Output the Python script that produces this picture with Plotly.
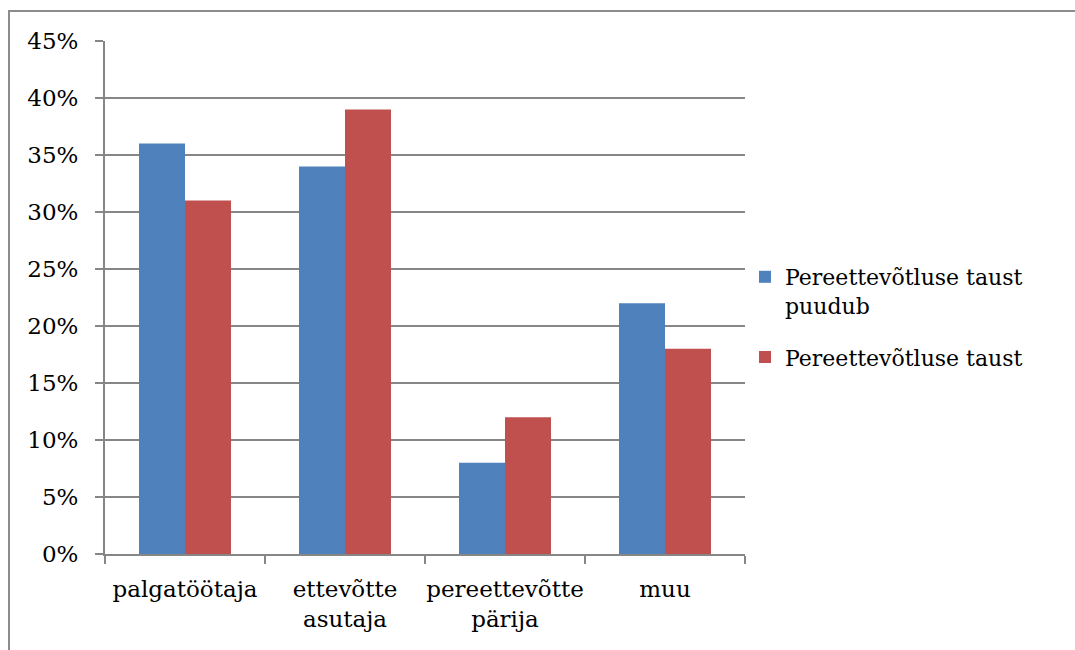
import plotly.graph_objects as go

# Survey shares by role, split by family-business background
categories = ["palgatöötaja", "ettevõtte<br>asutaja", "pereettevõtte<br>pärija", "muu"]
no_background = [0.36, 0.34, 0.08, 0.22]
with_background = [0.31, 0.39, 0.12, 0.18]
series_names = ["Pereettevõtluse taust<br>puudub", "Pereettevõtluse taust"]
y_ticks = [0, 0.05, 0.10, 0.15, 0.20, 0.25, 0.30, 0.35, 0.40, 0.45]

FONT = "DejaVu Serif"
GRID = "#868686"

fig = go.Figure()
fig.add_trace(go.Bar(x=categories, y=no_background, name=series_names[0],
                     legendgroup="g1",
                     marker=dict(color="#4F81BD", line=dict(width=0))))
fig.add_trace(go.Bar(x=categories, y=with_background, name=series_names[1],
                     legendgroup="g2",
                     marker=dict(color="#C0504D", line=dict(width=0))))

fig.update_layout(
    width=1075, height=650,
    margin=dict(l=105, r=330, t=41, b=96, autoexpand=False),
    paper_bgcolor="white", plot_bgcolor="white",
    font=dict(family=FONT, size=23, color="black"),
    barmode="group", bargap=0.425, bargroupgap=0,
    showlegend=True,
    legend=dict(x=1.0, xanchor="left", xref="paper", y=0.462, yanchor="middle",
                valign="top", tracegroupgap=20, itemwidth=30,
                font=dict(family=FONT, size=22, color="black"),
                bgcolor="rgba(0,0,0,0)"),
    xaxis=dict(showline=True, linecolor=GRID, linewidth=2,
               ticks="outside", tickson="boundaries", ticklen=8, tickcolor=GRID,
               tickwidth=2, showgrid=False, ticklabelstandoff=13, tickangle=0,
               tickfont=dict(family=FONT, size=23)),
    yaxis=dict(range=[0, 0.45], tickvals=y_ticks, tickformat=".0%",
               showline=True, linecolor=GRID, linewidth=2,
               ticks="outside", ticklen=8, tickcolor=GRID, tickwidth=2,
               showgrid=True, gridcolor=GRID, gridwidth=1.5,
               zeroline=False, ticklabelstandoff=12,
               tickfont=dict(family=FONT, size=23)),
    shapes=[dict(type="rect", xref="paper", yref="paper",
                 x0=-96 / 640, x1=2.0, y0=-1.0, y1=1 + 30 / 513,
                 line=dict(color="#8c8c8c", width=2), layer="above")],
)

fig.write_html("out.html")
